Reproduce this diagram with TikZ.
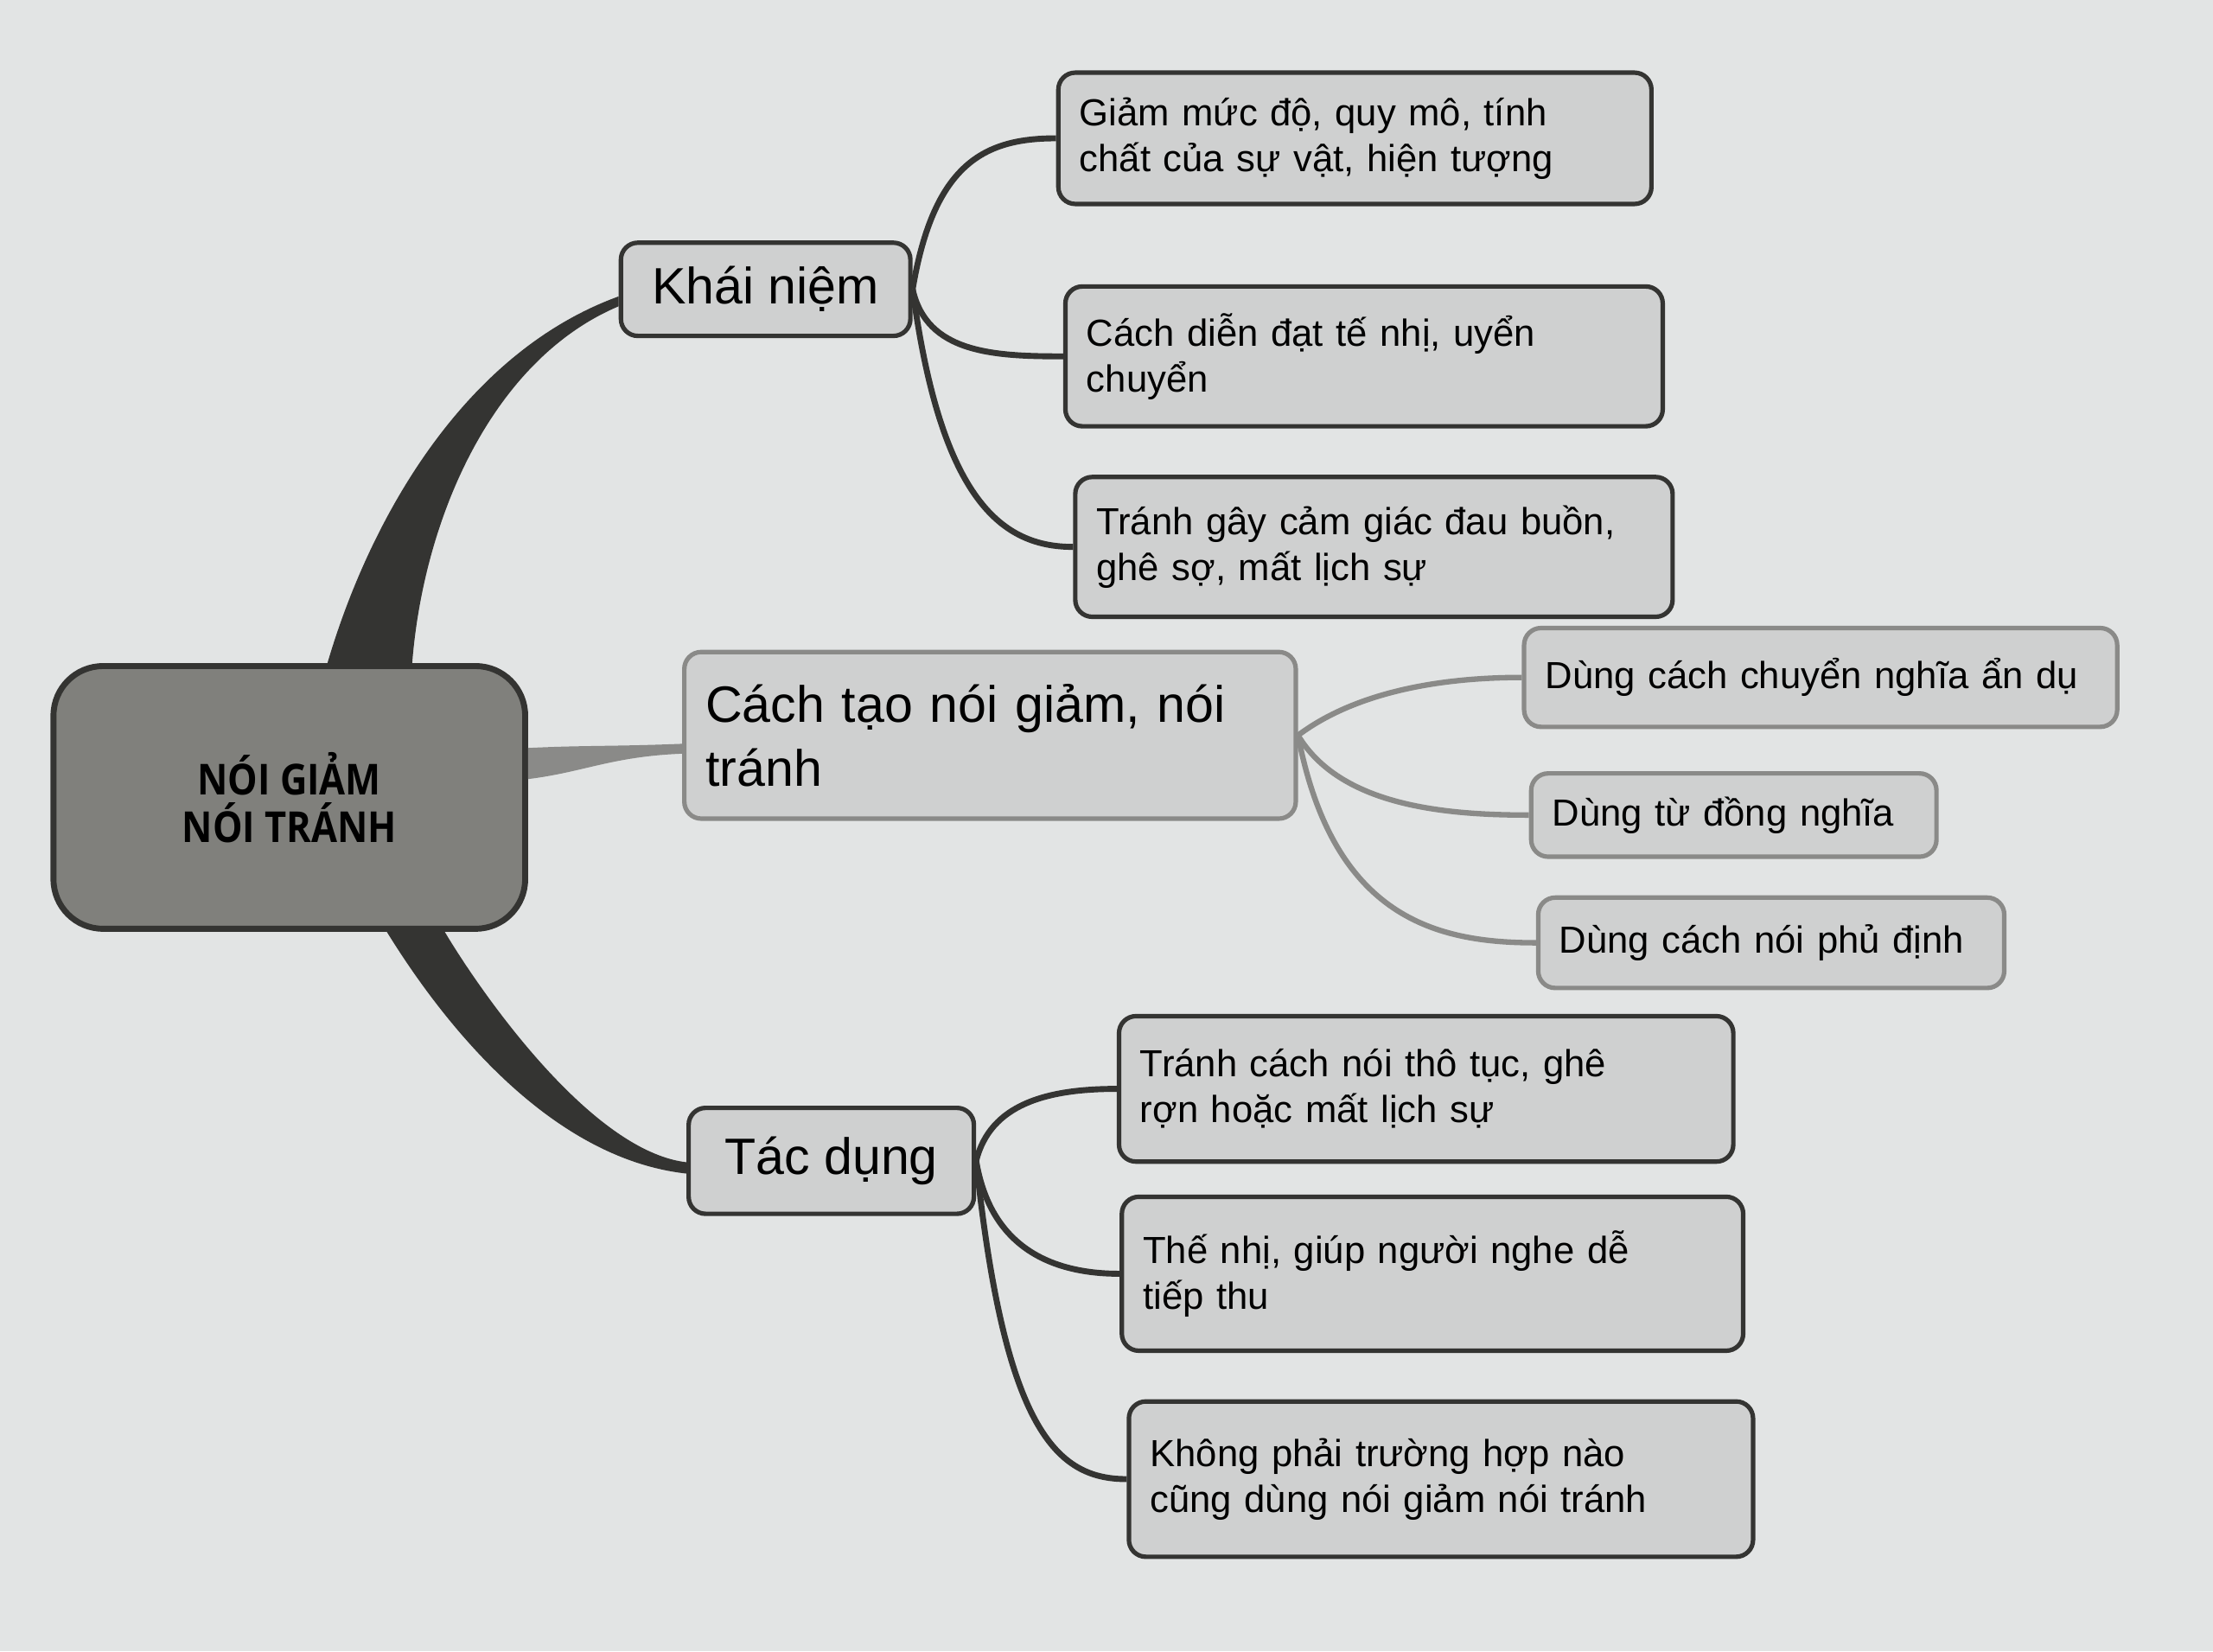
\documentclass[tikz,border=0pt]{standalone}
\usepackage{fontspec}
\setmainfont{Liberation Sans}
\newfontfamily\rootfont{Open Sans}[FakeStretch=0.88]
\usetikzlibrary{positioning}
\definecolor{paper}{RGB}{226,228,228}
\definecolor{boxfill}{RGB}{207,208,208}
\definecolor{inkline}{RGB}{52,52,50}
\definecolor{greyline}{RGB}{138,138,136}
\definecolor{rootfill}{RGB}{128,128,124}

\begin{document}
\begin{tikzpicture}[x=0.01cm,y=-0.01cm,
  topic/.style={draw=inkline,fill=boxfill,line width=0.9pt,rounded corners=0.12cm,
    font=\fontsize{10.3}{12.8}\selectfont,align=center,inner xsep=0.15cm},
  leaf/.style={topic,font=\fontsize{7.6}{9.2}\selectfont,align=left},
  soft/.style={draw=greyline},
  twig/.style={draw=inkline,line width=1.2pt},
  greytwig/.style={draw=greyline,line width=1.1pt}]

  \fill[paper] (0,0) rectangle (1568,1170);

  \node[draw=inkline,fill=rootfill,line width=1.2pt,rounded corners=0.35cm,
    minimum width=3.34cm,minimum height=1.86cm,align=center,
    font=\rootfont\bfseries\fontsize{8.6}{9.6}\selectfont] (root) at (205,565)
    {NÓI GIẢM\\NÓI TRÁNH};

  \node[topic,minimum width=2.05cm,minimum height=0.66cm] (khai) at (542.5,205) {Khái niệm};
  \node[topic,soft,align=left,text width=4.03cm,minimum height=1.18cm] (cach) at (701.5,521)
    {Cách tạo nói giảm, nói\\tránh};
  \node[topic,minimum width=2.02cm,minimum height=0.75cm] (tac) at (589,822.5) {Tác dụng};

  \node[leaf,text width=3.9cm,minimum height=0.93cm] (k1) at (960,98)
    {Giảm mức độ, quy mô, tính\\chất của sự vật, hiện tượng};
  \node[leaf,text width=3.93cm,minimum height=0.99cm] (k2) at (966.5,252.5)
    {Cách diễn đạt tế nhị, uyển\\chuyển};
  \node[leaf,text width=3.93cm,minimum height=0.99cm] (k3) at (973.5,387.5)
    {Tránh gây cảm giác đau buồn,\\ghê sợ, mất lịch sự};

  \node[leaf,soft,text width=3.9cm,minimum height=0.70cm] (c1) at (1290,480)
    {Dùng cách chuyển nghĩa ẩn dụ};
  \node[leaf,soft,text width=2.57cm,minimum height=0.59cm] (c2) at (1228.5,577.5)
    {Dùng từ đồng nghĩa};
  \node[leaf,soft,text width=3.0cm,minimum height=0.64cm] (c3) at (1255,668)
    {Dùng cách nói phủ định};

  \node[leaf,text width=4.05cm,minimum height=1.03cm] (t1) at (1010.5,771.5)
    {Tránh cách nói thô tục, ghê\\rợn hoặc mất lịch sự};
  \node[leaf,text width=4.1cm,minimum height=1.09cm] (t2) at (1015,902.5)
    {Thế nhị, giúp người nghe dễ\\tiếp thu};
  \node[leaf,text width=4.12cm,minimum height=1.10cm] (t3) at (1021,1048)
    {Không phải trường hợp nào\\cũng dùng nói giảm nói tránh};

  \fill[inkline] ([xshift=0.27cm]root.north) .. controls +(30,-102) and +(-110,40) .. ([yshift=-0.05cm]khai.west)
    -- ([yshift=-0.12cm]khai.west) .. controls +(-90,38) and +(8,-102) .. ([xshift=0.87cm]root.north) -- cycle;
  \fill[inkline] ([xshift=0.69cm]root.south) .. controls +(26,42) and +(-108,-12) .. ([yshift=-0.09cm]tac.west)
    -- ([yshift=-0.01cm]tac.west) .. controls +(-68,-8) and +(25,42) .. ([xshift=1.10cm]root.south) -- cycle;
  \fill[greyline] ([yshift=0.35cm]root.east) .. controls +(40,-2) and +(-50,2) .. ([yshift=-0.06cm]cach.west)
    -- ([yshift=-0.13cm]cach.west) .. controls +(-50,2) and +(40,-5) .. ([yshift=0.13cm]root.east) -- cycle;

  \draw[twig] (khai.east) .. controls +(15,-90) and +(-50,0) .. (k1.west);
  \draw[twig] (khai.east) .. controls +(10,45) and +(-50,0) .. (k2.west);
  \draw[twig] (khai.east) .. controls +(20,150) and +(-50,0) .. (k3.west);

  \draw[greytwig] (cach.east) .. controls +(40,-30) and +(-60,0) .. (c1.west);
  \draw[greytwig] (cach.east) .. controls +(30,50) and +(-60,0) .. (c2.west);
  \draw[greytwig] (cach.east) .. controls +(25,130) and +(-70,0) .. (c3.west);

  \draw[twig] (tac.east) .. controls +(10,-40) and +(-50,0) .. (t1.west);
  \draw[twig] (tac.east) .. controls +(10,60) and +(-50,0) .. (t2.west);
  \draw[twig] (tac.east) .. controls +(20,190) and +(-50,0) .. (t3.west);
\end{tikzpicture}
\end{document}
